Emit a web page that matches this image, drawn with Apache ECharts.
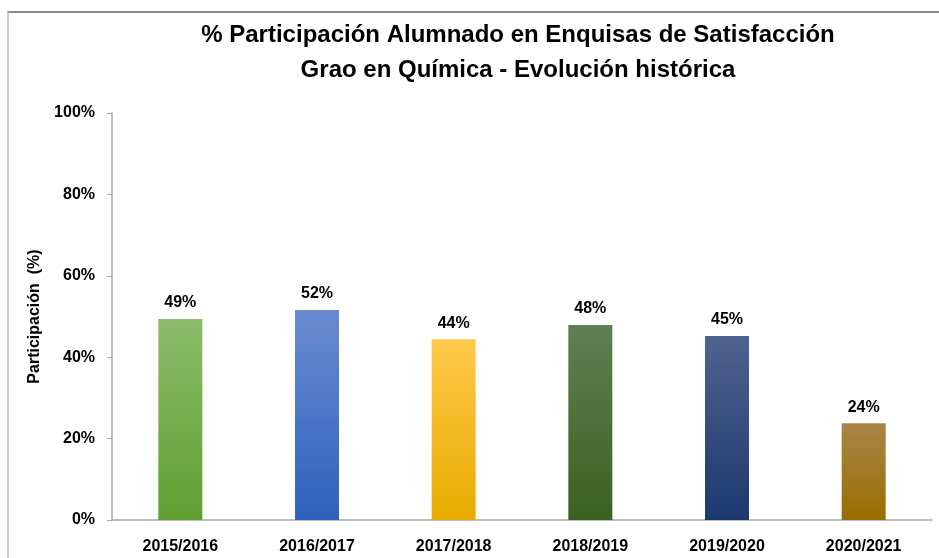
<!DOCTYPE html>
<html>
<head>
<meta charset="utf-8">
<script src="https://cdn.jsdelivr.net/npm/echarts@6/dist/echarts.min.js"></script>
<style>
  html, body { margin: 0; padding: 0; background: #fff; }
  #frame {
    position: absolute; left: 7px; top: 11px; width: 940px; height: 560px;
    border-top: 2px solid #8c8c8c; border-left: 2px solid #d0d0d0;
  }
  #chart { position: absolute; left: 0; top: 0; width: 939px; height: 558px; }
</style>
</head>
<body>
<div id="frame"></div>
<div id="chart"></div>
<script>
// cursos academicos
const categories = ['2015/2016', '2016/2017', '2017/2018', '2018/2019', '2019/2020', '2020/2021']
// % participacion (leido da grafica)
const participation = [49.4, 51.6, 44.4, 47.9, 45.2, 23.8]
// degradado de cada barra: arriba, abaixo
const barTop = ['#8cbb6b', '#6a8bd1', '#ffc94a', '#5f7f55', '#506291', '#a98548']
const barBottom = ['#5f9f31', '#2d61bb', '#e8ab00', '#3a6220', '#1c396f', '#9a6d00']

const font = '"Liberation Sans", Arial, sans-serif'

let chart = echarts.init(document.getElementById('chart'))
let option = {
  animation: false,
  title: {
    text: '% Participación Alumnado en Enquisas de Satisfacción\nGrao en Química - Evolución histórica',
    left: 513,
    textAlign: 'center',
    top: 13,
    textStyle: { fontFamily: font, fontWeight: 'bold', fontSize: 24, lineHeight: 35, color: '#000' }
  },
  grid: { left: 112, right: 7, top: 113, bottom: 38 },
  xAxis: {
    type: 'category',
    data: categories,
    axisLine: { lineStyle: { color: '#a6a6a6', width: 1.5 } },
    axisTick: { show: false },
    axisLabel: { fontFamily: font, fontWeight: 'bold', fontSize: 16, color: '#000', margin: 19 }
  },
  yAxis: {
    type: 'value',
    min: 0,
    max: 100,
    interval: 20,
    name: 'Participación  (%)',
    nameLocation: 'middle',
    nameRotate: 90,
    nameGap: 69,
    nameTextStyle: { fontFamily: font, fontWeight: 'bold', fontSize: 16, color: '#000' },
    axisLine: { show: true, lineStyle: { color: '#a6a6a6', width: 1.5 } },
    axisTick: { show: true, length: 5, lineStyle: { color: '#a6a6a6' } },
    splitLine: { show: false },
    axisLabel: {
      fontFamily: font, fontWeight: 'bold', fontSize: 16, color: '#000', margin: 17,
      formatter: v => v + '%'
    }
  },
  series: [{
    type: 'bar',
    barWidth: 44,
    data: participation.map((v, i) => ({
      value: v,
      itemStyle: {
        color: new echarts.graphic.LinearGradient(0, 0, 0, 1, [
          { offset: 0, color: barTop[i] },
          { offset: 1, color: barBottom[i] }
        ])
      }
    })),
    label: {
      show: true,
      position: 'top',
      distance: 8,
      fontFamily: font, fontWeight: 'bold', fontSize: 16, color: '#000',
      formatter: p => Math.round(p.value) + '%'
    }
  }]
}
chart.setOption(option)
</script>
</body>
</html>
